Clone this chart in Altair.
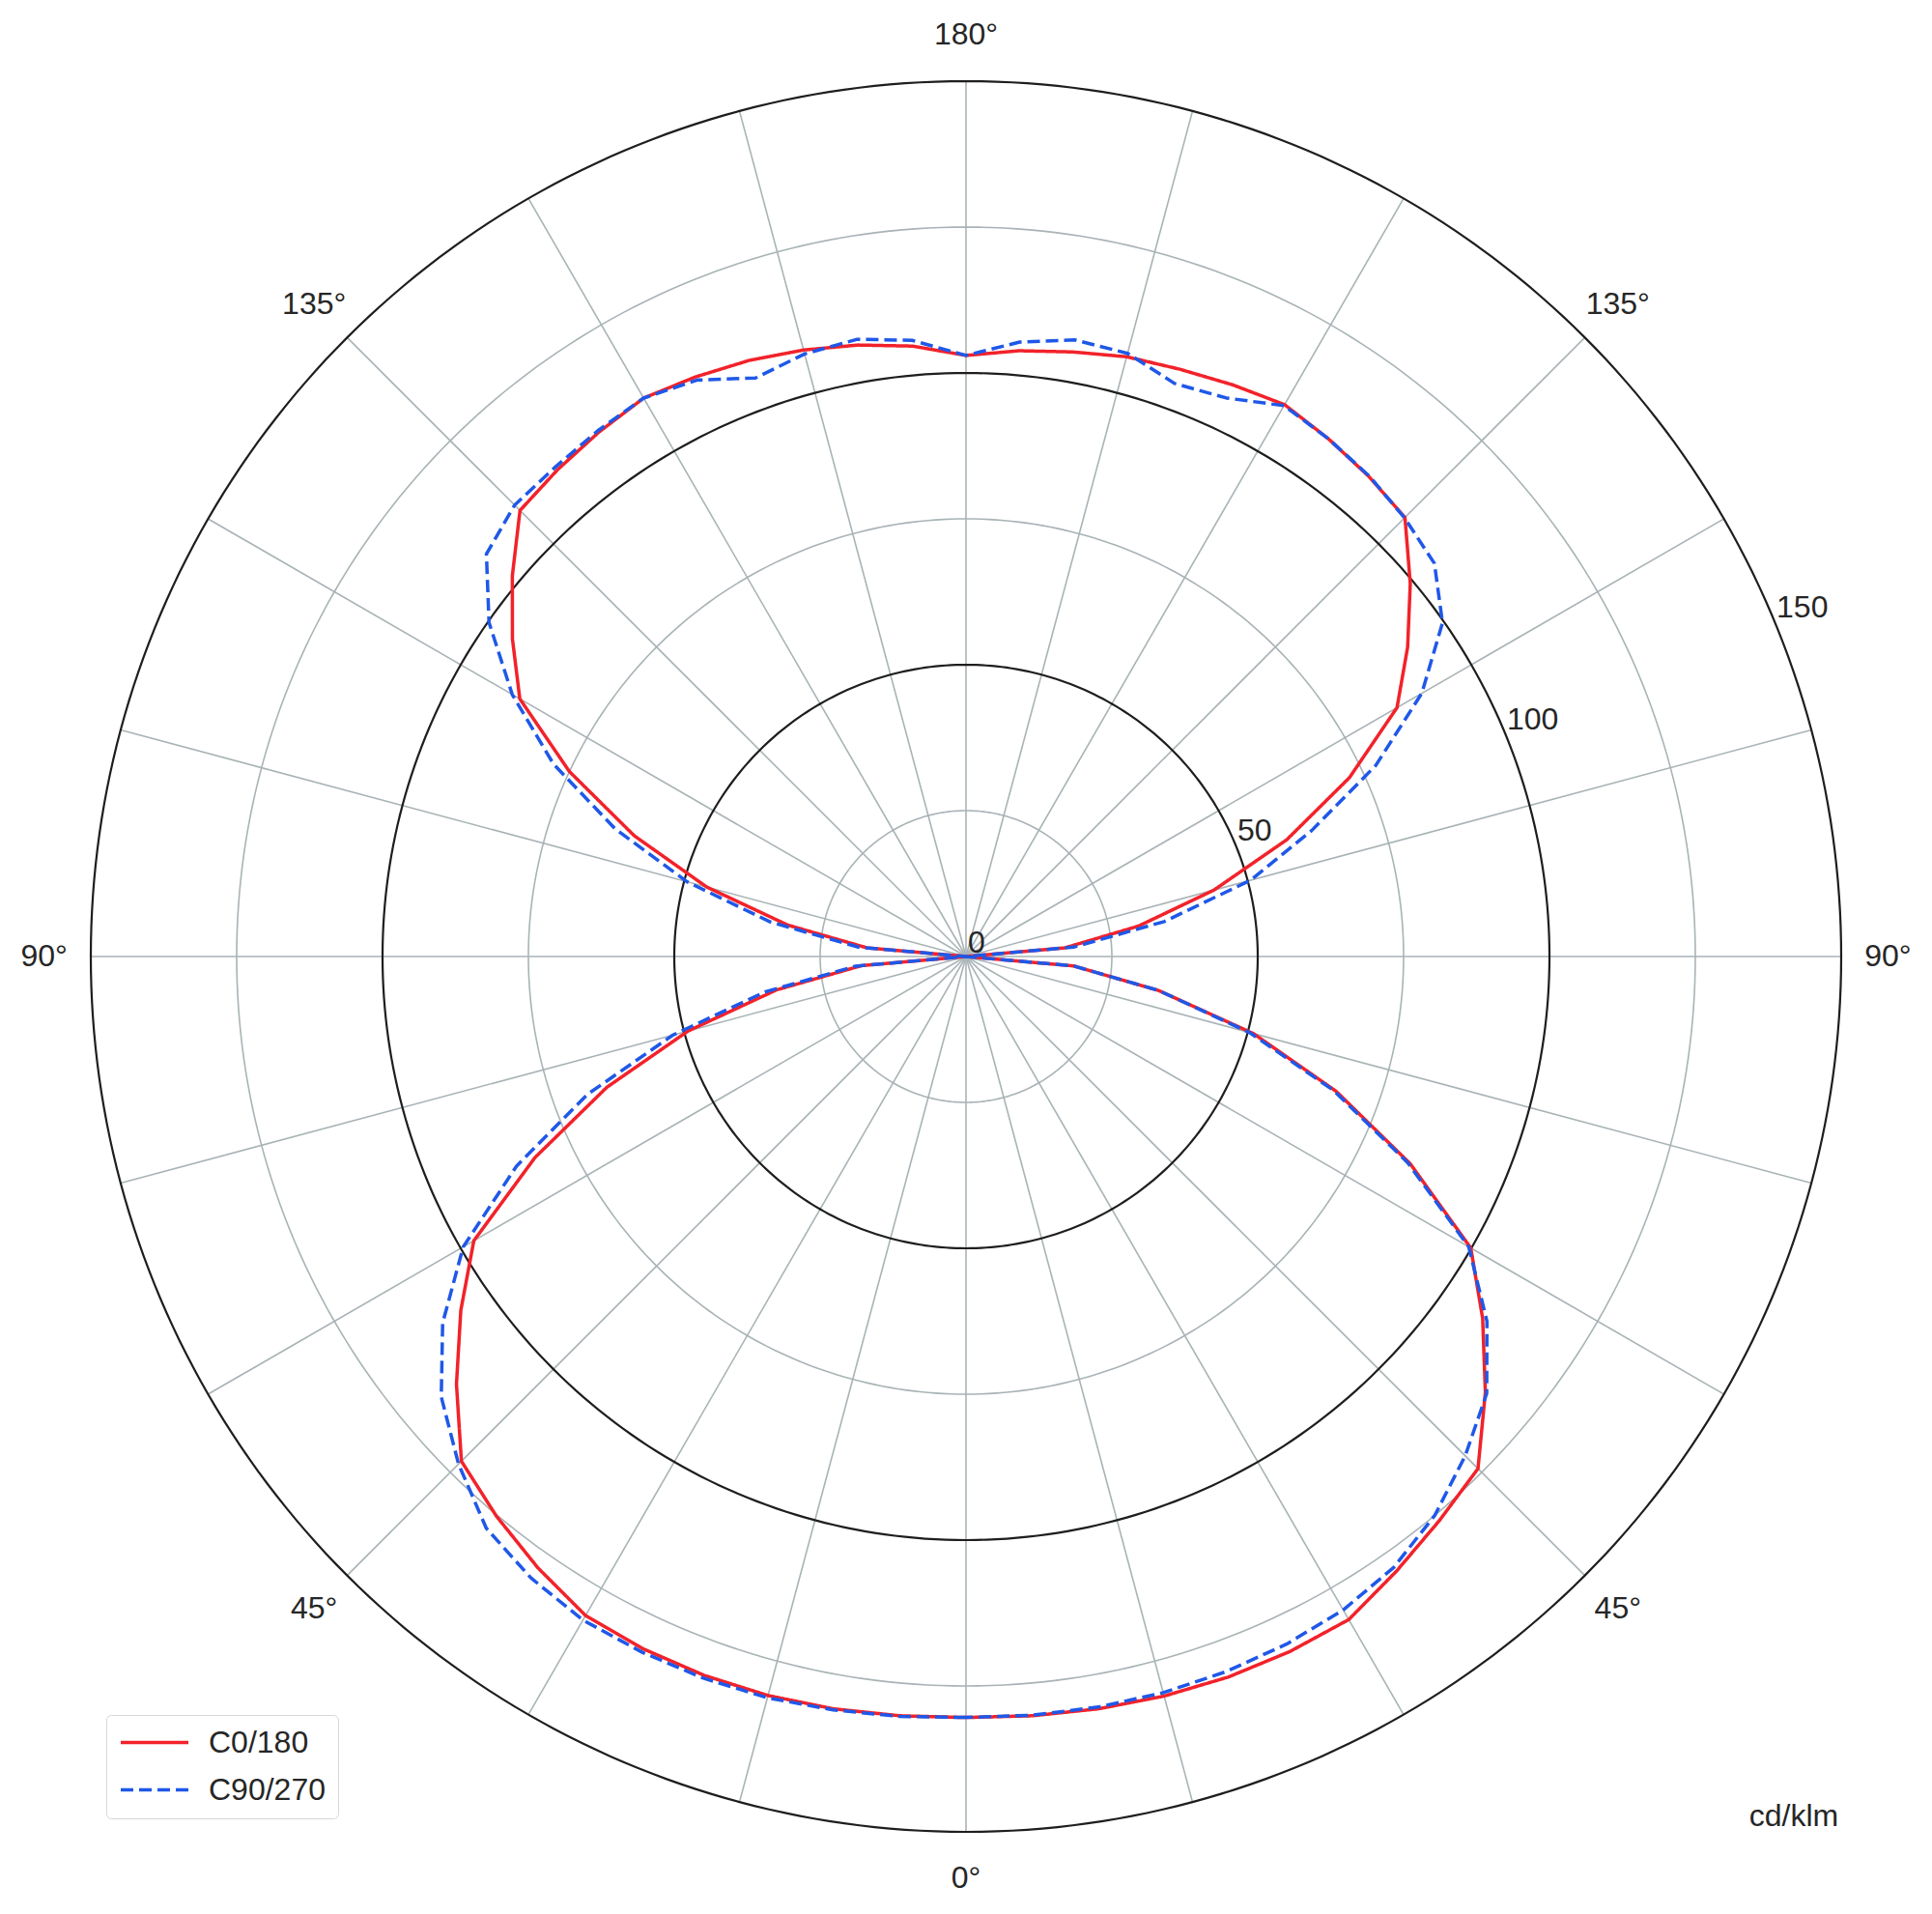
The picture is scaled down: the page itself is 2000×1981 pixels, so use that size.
import altair as alt
import pandas as pd

# ---------------- data ----------------
gamma = list(range(0, 181, 5))

# C0/180 (red, solid) : right half = C0, left half = C180
c0 = [130.4, 130.6, 130.9, 131.2, 131.4, 131.4, 131.2, 128.6, 126.2, 124.1,
      116.2, 108.1, 99.9, 84.0, 67.5, 51.0, 33.5, 18.5, 0.0,
      17.0, 30.0, 44.0, 58.5, 72.5, 85.3, 92.4, 99.4, 106.4, 107.4,
      108.3, 109.2, 108.1, 107.1, 106.4, 105.2, 104.2, 103.0]
c180 = [130.4, 130.6, 130.9, 131.1, 131.1, 130.9, 130.4, 127.9, 125.2, 122.3,
        114.0, 105.7, 97.4, 81.5, 65.5, 49.3, 33.0, 18.0, 0.0,
        17.0, 31.0, 46.0, 60.5, 75.0, 88.3, 94.9, 101.5, 108.1, 108.9,
        109.7, 110.5, 109.6, 108.7, 107.6, 106.4, 105.0, 103.0]
# C90/270 (blue, dashed) : right half = C90, left half = C270
c90 = [130.4, 130.5, 130.6, 130.6, 130.4, 130.0, 129.3, 127.8, 125.0, 121.0,
       116.5, 109.0, 99.5, 83.5, 67.0, 50.3, 33.5, 18.5, 0.0,
       18.5, 34.5, 50.5, 63.0, 77.5, 90.2, 99.7, 104.8, 106.3, 107.5,
       108.3, 109.0, 105.6, 104.5, 107.0, 107.3, 105.7, 103.0]
c270 = [130.4, 130.7, 131.1, 131.5, 131.6, 131.5, 131.3, 130.0, 127.9, 123.0,
        117.4, 109.5, 99.5, 85.0, 69.0, 52.0, 35.0, 19.0, 0.0,
        18.5, 34.0, 49.5, 64.0, 78.0, 89.8, 99.8, 107.3, 109.4, 109.5,
        110.0, 110.5, 109.0, 105.5, 106.9, 107.4, 106.0, 103.0]

series_names = ["C0/180", "C90/270"]
ring_values = [25, 50, 75, 100, 125, 150]
spoke_angles = list(range(0, 360, 15))
angle_label_angles = [0, 45, 90, 135, 180, 225, 270, 315]
angle_label_texts = ["0°", "45°", "90°", "135°", "180°", "135°", "90°", "45°"]
radial_ticks = [0, 50, 100, 150]
unit_label = ["cd/klm"]

# ---------------- layout / style ----------------
W, H = 1976, 1958
CX, CY = 992, 982          # polar origin inside the plot area (px)
K = 6.04                   # px per cd/klm
XD = [-CX / K, (W - CX) / K]
YD = [-(H - CY) / K, CY / K]
R_MAX = 150
R_LABEL = 158
RLABEL_ANGLE = 22.5

FONT = "Liberation Sans"
FS = 32
TXT = "#262626"
GRID = "#a9b3b6"
DARK = "#1e1e1e"
RED = "#f2222a"
BLUE = "#1f58e8"

xs = alt.Scale(domain=XD, nice=False, zero=False)
ys = alt.Scale(domain=YD, nice=False, zero=False)
X = lambda f: alt.X(f, scale=xs, axis=None)
Y = lambda f: alt.Y(f, scale=ys, axis=None)

# ---------------- grid ----------------
spokes = alt.Chart(pd.DataFrame({"a": spoke_angles})).transform_calculate(
    x0="0", y0="0",
    x1=f"{R_MAX} * sin(datum.a * PI / 180)",
    y1=f"-{R_MAX} * cos(datum.a * PI / 180)",
).mark_rule(color=GRID, strokeWidth=1.6).encode(
    x=X("x0:Q"), y=Y("y0:Q"), x2="x1:Q", y2="y1:Q")

rings_df = pd.DataFrame({"r": ring_values})


def ring_layer(expr, color, width):
    return alt.Chart(rings_df).transform_filter(expr).transform_calculate(
        a="sequence(0, 361, 1)"
    ).transform_flatten(["a"]).transform_calculate(
        x="datum.r * sin(datum.a * PI / 180)",
        y="datum.r * cos(datum.a * PI / 180)",
    ).mark_line(color=color, strokeWidth=width).encode(
        x=X("x:Q"), y=Y("y:Q"), detail="r:N", order="a:Q")


minor_rings = ring_layer("datum.r % 50 != 0", GRID, 1.6)
major_rings = ring_layer("datum.r % 50 == 0", DARK, 2.2)

# ---------------- curves ----------------
rows = []
for name, right, left in [(series_names[0], c0, c180), (series_names[1], c90, c270)]:
    for g, v in zip(gamma, left):
        rows.append({"series": name, "side": "L", "g": g, "v": v})
    for g, v in zip(gamma, right):
        rows.append({"series": name, "side": "R", "g": g, "v": v})
curves_df = pd.DataFrame(rows)

legend = alt.Legend(
    title=None, orient="none", legendX=102, legendY=1767, direction="vertical",
    symbolType="stroke", symbolSize=4900, symbolStrokeWidth=3.5, clipHeight=31,
    labelFontSize=FS, labelFont=FONT, labelColor=TXT, labelOffset=19,
    padding=13, rowPadding=16, strokeColor="#d3d9db", cornerRadius=5,
    fillColor="white")

curves = alt.Chart(curves_df).transform_calculate(
    x="(datum.side == 'R' ? 1 : -1) * datum.v * sin(datum.g * PI / 180)",
    y="-datum.v * cos(datum.g * PI / 180)",
    ord="datum.side == 'L' ? datum.g : 360 - datum.g",
).mark_line(strokeWidth=3.5, strokeJoin="round").encode(
    x=X("x:Q"), y=Y("y:Q"), order="ord:Q",
    color=alt.Color("series:N", scale=alt.Scale(domain=series_names, range=[RED, BLUE]),
                    legend=legend),
    strokeDash=alt.StrokeDash("series:N",
                              scale=alt.Scale(domain=series_names, range=[[1, 0], [13, 6]]),
                              legend=legend),
)

# ---------------- labels ----------------
angle_labels = alt.Chart(pd.DataFrame({"a": angle_label_angles, "t": angle_label_texts})).transform_calculate(
    x=f"{R_LABEL} * sin(datum.a * PI / 180)",
    y=f"-{R_LABEL} * cos(datum.a * PI / 180)",
).mark_text(font=FONT, fontSize=FS, color=TXT, align="center", baseline="middle").encode(
    x=X("x:Q"), y=Y("y:Q"), text="t:N")

radial_labels = alt.Chart(pd.DataFrame({"r": radial_ticks})).transform_calculate(
    x=f"datum.r * cos({RLABEL_ANGLE} * PI / 180)",
    y=f"datum.r * sin({RLABEL_ANGLE} * PI / 180)",
    t="format(datum.r, 'd')",
).mark_text(font=FONT, fontSize=FS, color=TXT, align="left", baseline="alphabetic",
            dx=2, dy=-4).encode(x=X("x:Q"), y=Y("y:Q"), text="t:N")

unit = alt.Chart(pd.DataFrame({"t": unit_label})).mark_text(
    font=FONT, fontSize=FS, color=TXT, align="center", baseline="middle").encode(
    x=alt.value(1849), y=alt.value(1872), text="t:N")

chart = alt.layer(
    spokes, minor_rings, major_rings, curves, angle_labels, radial_labels, unit
).properties(
    width=W, height=H, padding=0, autosize=alt.AutoSizeParams(type="none")
).configure_view(stroke=None)

chart.save("out.html", embed_options={"renderer": "svg", "actions": False})
